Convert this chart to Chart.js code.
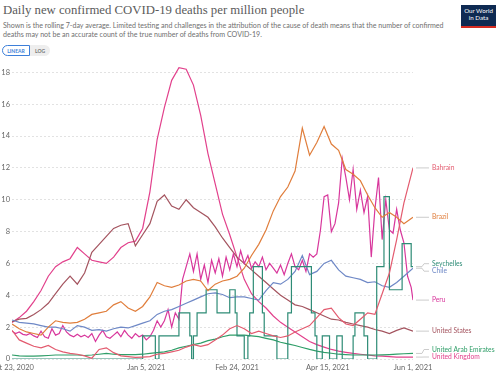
<!DOCTYPE html>
<html>
<head>
<meta charset="utf-8">
<script src="https://cdn.jsdelivr.net/npm/chart.js@4.4.1/dist/chart.umd.min.js"></script>
<style>
  body { margin: 0; width: 499px; height: 376px; overflow: hidden; background: #fff; font-family: Lato, sans-serif; position: relative; }
  #title { position: absolute; left: 3px; top: 3px; font-family: "Liberation Serif", serif; font-size: 15px; color: #5b5b5b; white-space: nowrap; }
  #subtitle { position: absolute; left: 3px; top: 21px; font-size: 7.1px; line-height: 9px; color: #6f6f6f; white-space: nowrap; }
  #toggle { position: absolute; left: 2px; top: 45px; height: 11px; display: flex; font-size: 5px; font-weight: bold; }
  #toggle span { display: flex; align-items: center; justify-content: center; box-sizing: border-box; height: 11px; }
  #lin { width: 28px; border: 1px solid #3d7fd9; color: #3d7fd9; border-radius: 6px 0 0 6px; }
  #log { width: 20px; background: #eee; color: #777; border-radius: 0 6px 6px 0; }
  #logo { position: absolute; left: 461px; top: 5px; width: 35px; height: 19px; background: #0e2a52; border-bottom: 2px solid #d42b21; color: #fff; font-size: 6.2px; line-height: 7px; text-align: center; padding-top: 2px; box-sizing: content-box; }
  #wrap { position: absolute; left: 0; top: 58px; }
</style>
</head>
<body>
<div id="title">Daily new confirmed COVID-19 deaths per million people</div>
<div id="subtitle">Shown is the rolling 7-day average. Limited testing and challenges in the attribution of the cause of death means that the number of confirmed<br>deaths may not be an accurate count of the true number of deaths from COVID-19.</div>
<div id="toggle"><span id="lin">LINEAR</span><span id="log">LOG</span></div>
<div id="logo">Our World<br>in Data</div>
<div id="wrap"><canvas id="chart" width="499" height="318"></canvas></div>
<script>
// days since Oct 23, 2020
const days4 = [0,4,8,12,16,20,24,28,32,36,40,44,48,52,56,60,64,68,72,76,80,84,88,92,96,100,104,108,112,116,120,124,128,132,136,140,144,148,152,156,160,164,168,172,176,180,184,188,192,196,200,204,208,212,216,221];
const days2 = [0,2,4,6,8,10,12,14,16,18,20,22,24,26,28,30,32,34,36,38,40,42,44,46,48,50,52,54,56,58,60,62,64,66,68,70,72,74,76,78,80,82,84,86,88,90,92,94,96,98,100,102,104,106,108,110,112,114,116,118,120,122,124,126,128,130,132,134,136,138,140,142,144,146,148,150,152,154,156,158,160,162,164,166,168,170,172,174,176,178,180,182,184,186,188,190,192,194,196,198,200,202,204,206,208,210,212,214,216,218,220,221];
const seyDays = [0,72,79,81,92,98,99,100,102,107,113,120,123,124,128,130,131,133,138,139,146,152,154,165,167,168,171,175,179,182,188,189,194,196,201,205,208,215,220,221];

const tickDays = [0, 74, 124, 174, 221];
const tickLabels = ["Oct 23, 2020", "Jan 5, 2021", "Feb 24, 2021", "Apr 15, 2021", "Jun 1, 2021"];

const bahrain = [1.8,1.2,1.0,0.8,0.7,0.85,0.6,0.45,0.35,0.3,0.2,0.05,0.6,0.7,0.4,0.2,0.15,0.1,0.12,0.15,0.3,0.35,0.45,0.55,0.75,0.9,0.8,0.9,1.2,1.5,1.9,2.1,1.9,1.6,1.75,1.6,1.45,1.35,1.45,1.7,1.9,2.1,2.6,3.1,3.2,2.6,2.2,2.1,2.5,2.9,2.8,4.1,5.4,7.5,9.8,12.0];
const brazil = [2.2,1.9,1.7,1.6,1.5,2.0,2.4,2.3,2.25,2.3,2.5,2.8,2.9,3.0,3.4,3.6,3.2,3.0,3.3,3.9,4.8,4.6,4.5,4.65,4.9,5.0,4.9,4.3,4.7,4.9,5.0,5.2,5.7,6.5,7.2,8.1,9.3,10.2,10.8,11.8,14.5,12.8,13.6,14.6,13.5,13.1,11.9,11.6,11.2,10.3,9.5,8.9,9.2,8.9,8.5,8.9];
const seychelles = [0,1.45,0,1.45,2.9,1.45,0,1.45,2.9,4.35,2.9,4.35,2.9,1.45,0,1.45,2.9,5.8,2.9,1.45,0,2.9,5.8,2.9,1.45,0,1.45,0,1.45,0,1.45,2.9,1.45,0,5.8,10.2,4.35,7.25,5.8,5.8];
const chile = [2.45,2.3,2.25,2.2,2.1,2.0,2.0,1.9,1.75,2.1,2.0,1.8,1.85,1.75,1.9,2.0,1.95,2.1,2.25,2.4,2.8,3.0,3.1,3.3,3.5,3.7,3.9,4.1,4.15,4.05,3.85,3.9,3.9,3.8,3.7,4.3,4.8,4.7,5.0,5.5,6.5,5.3,5.5,6.0,6.2,5.6,5.2,5.1,5.0,4.8,4.85,4.6,4.5,4.8,5.2,5.7];
const peru = [1.75,1.6,1.7,1.55,1.5,1.6,1.45,1.35,1.75,1.4,1.3,1.9,1.5,1.6,2.1,1.7,1.5,1.4,1.55,1.4,1.5,1.35,1.6,1.1,1.5,1.8,1.4,1.3,1.5,1.7,1.4,1.8,1.5,1.3,1.6,1.4,1.5,1.2,1.4,1.8,2.4,2.0,2.4,3.1,2.0,2.9,2.5,5.0,5.8,6.6,5.5,6.6,5.0,5.9,4.8,6.2,5.4,6.3,5.2,6.4,5.6,6.6,5.8,6.8,6.0,6.5,5.7,6.1,5.8,6.4,5.6,6.0,5.7,5.4,5.9,5.3,6.0,6.6,5.8,5.6,6.2,5.5,6.6,6.4,6.6,8.1,10.2,10.3,8.0,8.5,9.8,12.6,11.4,10.0,11.9,9.4,10.6,9.2,10.2,6.4,9.4,11.4,7.5,10.0,8.1,7.9,9.4,8.1,7.3,5.2,4.5,3.7];
const unitedStates = [2.35,2.5,2.55,2.8,3.1,3.5,4.1,4.7,5.2,4.7,5.4,6.7,7.2,7.7,8.2,8.4,8.5,7.1,7.8,8.5,9.9,10.3,9.6,9.4,10.0,9.5,9.2,8.9,8.3,7.6,7.0,6.4,6.0,5.6,5.2,4.8,4.4,4.0,3.7,3.4,3.3,3.1,2.9,2.7,2.5,2.45,2.3,2.2,2.1,2.0,1.85,1.75,1.6,1.8,1.95,1.75];
const uae = [0.25,0.2,0.18,0.18,0.2,0.22,0.25,0.25,0.25,0.25,0.22,0.25,0.3,0.35,0.3,0.28,0.28,0.28,0.3,0.35,0.4,0.45,0.55,0.7,0.8,0.9,1.0,1.15,1.25,1.4,1.5,1.5,1.5,1.45,1.4,1.3,1.2,1.05,0.95,0.85,0.72,0.6,0.5,0.42,0.36,0.3,0.28,0.25,0.25,0.25,0.25,0.26,0.28,0.3,0.33,0.35];
const uk = [2.3,2.6,3.0,3.6,4.3,5.2,5.8,6.1,6.3,7.0,6.6,6.2,6.1,6.0,6.4,7.0,7.3,7.4,8.2,10.5,13.8,15.8,17.5,18.3,18.2,17.2,15.3,12.9,11.0,9.1,7.8,6.4,5.0,4.1,3.6,3.2,2.7,2.3,2.0,1.7,1.4,1.1,0.9,0.75,0.6,0.5,0.42,0.35,0.3,0.25,0.2,0.18,0.15,0.12,0.12,0.12];

const pts = (xs, ys) => xs.map((d, i) => ({ x: d, y: ys[i] }));

const series = [
  { label: "Bahrain", color: "#e35b6f", data: pts(days4, bahrain) },
  { label: "Brazil", color: "#e07e3c", data: pts(days4, brazil) },
  { label: "Seychelles", color: "#2e8c76", data: pts(seyDays, seychelles), stepped: true },
  { label: "Chile", color: "#6e88c6", data: pts(days4, chile) },
  { label: "Peru", color: "#d8379c", data: pts(days2, peru) },
  { label: "United States", color: "#a4545f", data: pts(days4, unitedStates) },
  { label: "United Arab Emirates", color: "#2f9e68", data: pts(days4, uae) },
  { label: "United Kingdom", color: "#e2418c", data: pts(days4, uk) },
];

// fit title width
const title = document.getElementById("title");
let fs = 15;
while (title.getBoundingClientRect().width > 306 && fs > 8) { fs -= 0.25; title.style.fontSize = fs + "px"; }

// labels at the end of each line
const endLabels = {
  id: "endLabels",
  afterDatasetsDraw(chart) {
    const ctx = chart.ctx;
    const items = chart.data.datasets.map((ds, i) => {
      const meta = chart.getDatasetMeta(i);
      const p = meta.data[meta.data.length - 1];
      return { text: ds.label, color: ds.borderColor, x: p.x, y: p.y, ly: p.y };
    }).sort((a, b) => a.y - b.y);
    const gap = 7.5, maxY = chart.chartArea.bottom - 2;
    for (let k = 0; k < 100; k++) {
      for (let i = 1; i < items.length; i++) {
        const d = items[i].ly - items[i - 1].ly;
        if (d < gap) { const s = (gap - d) / 2; items[i].ly += s; items[i - 1].ly -= s; }
      }
      items.forEach(it => { if (it.ly > maxY) it.ly = maxY; });
    }
    ctx.save();
    ctx.font = "6.7px Lato";
    ctx.textBaseline = "middle";
    items.forEach(it => {
      ctx.strokeStyle = "#cccccc";
      ctx.lineWidth = 1;
      ctx.beginPath();
      ctx.moveTo(it.x + 3, it.y);
      ctx.lineTo(it.x + 9, it.y);
      ctx.lineTo(it.x + 11, it.ly);
      ctx.lineTo(it.x + 16, it.ly);
      ctx.stroke();
      ctx.fillStyle = it.color;
      ctx.fillText(it.text, it.x + 19, it.ly);
    });
    ctx.restore();
  }
};

new Chart(document.getElementById("chart"), {
  type: "line",
  data: {
    datasets: series.map(s => ({
      label: s.label,
      data: s.data,
      borderColor: s.color,
      backgroundColor: s.color,
      borderWidth: 1.2,
      pointRadius: 0,
      tension: 0,
      stepped: s.stepped || false,
    })),
  },
  options: {
    responsive: false,
    animation: false,
    devicePixelRatio: 1,
    layout: { padding: { left: 0, right: 86, top: 8, bottom: 0 } },
    plugins: { legend: { display: false }, tooltip: { enabled: false } },
    scales: {
      x: {
        type: "linear",
        min: 0,
        max: 221,
        grid: { display: false, drawTicks: false },
        border: { display: false },
        afterBuildTicks: (scale) => { scale.ticks = tickDays.map(v => ({ value: v })); },
        afterFit: (scale) => { scale.height = 17; scale.paddingLeft = 0; scale.paddingRight = 0; },
        ticks: {
          maxRotation: 0,
          autoSkip: false,
          padding: 4,
          color: "#666",
          font: { family: "Lato", size: 7.5 },
          callback: (v) => tickLabels[tickDays.indexOf(v)],
        },
      },
      y: {
        min: 0,
        max: 18.4,
        grid: { color: "#e2e2e2", drawTicks: false },
        border: { display: false, dash: [2, 2] },
        afterFit: (scale) => { scale.width = 12; },
        ticks: {
          stepSize: 2,
          includeBounds: false,
          padding: 2,
          color: "#666",
          font: { family: "Lato", size: 7.5 },
        },
      },
    },
  },
  plugins: [endLabels],
});
</script>
</body>
</html>
